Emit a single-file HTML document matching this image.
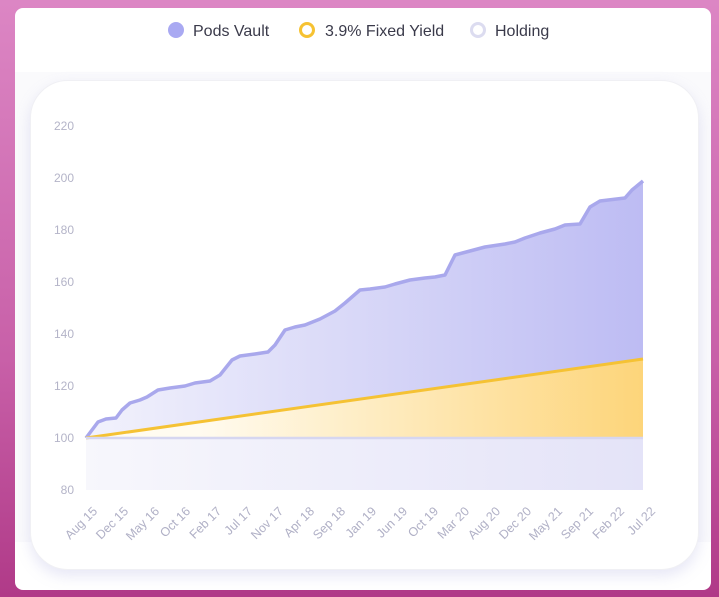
<!DOCTYPE html>
<html><head><style>
body{margin:0;width:719px;height:597px;overflow:hidden;background:linear-gradient(180deg,#dc86c4 0%,#c860a8 60%,#b03a88 100%);font-family:"Liberation Sans",sans-serif;}
.card{position:absolute;left:15px;top:8px;width:696px;height:582px;background:#fff;border-radius:8px;}
.band{position:absolute;left:15px;top:72px;width:696px;height:470px;background:#fafafc;}
.inner{position:absolute;left:30px;top:80px;width:667px;height:488px;background:#fff;border-radius:38px;box-shadow:0 6px 14px rgba(160,160,220,.25);border:1px solid #f0f0f4;}
</style></head><body>
<div class="card"></div>
<div class="band"></div>
<div class="inner"></div>
<svg width="719" height="597" style="position:absolute;left:0;top:0">
<defs>
<linearGradient id="pv" x1="0" y1="0" x2="1" y2="0"><stop offset="0" stop-color="#f2f2fc"/><stop offset="1" stop-color="#bdbcf3"/></linearGradient>
<linearGradient id="fy" x1="0" y1="0" x2="1" y2="0"><stop offset="0.2" stop-color="#fffbf0"/><stop offset="1" stop-color="#fdd57a"/></linearGradient>
<linearGradient id="hd" x1="0" y1="0" x2="1" y2="0"><stop offset="0" stop-color="#f7f7fc"/><stop offset="1" stop-color="#e4e3f8"/></linearGradient>
</defs>
<g font-size="16" fill="#3a3a4a">
<circle cx="176" cy="30" r="8" fill="#a9a9f2"/><text x="193" y="36">Pods Vault</text>
<circle cx="307" cy="30" r="6.5" fill="none" stroke="#f6c232" stroke-width="3"/><text x="325" y="36">3.9% Fixed Yield</text>
<circle cx="478" cy="30" r="6.5" fill="none" stroke="#dcdcf0" stroke-width="3"/><text x="495" y="36">Holding</text>
</g>
<g font-size="12" fill="#b4b4c8" text-anchor="end">
<text x="74" y="130">220</text><text x="74" y="182">200</text><text x="74" y="234">180</text><text x="74" y="286">160</text><text x="74" y="338">140</text><text x="74" y="390">120</text><text x="74" y="442">100</text><text x="74" y="494">80</text>
</g>
<rect x="86" y="438" width="557" height="52" fill="url(#hd)"/>
<path d="M86,438 L98,422 L106,419 L116,418 L122,410 L130,403 L140,400 L147,397 L158,390 L170,388 L185,386 L195,383 L210,381 L220,375 L232,360 L240,356 L255,354 L268,352 L275,345 L285,330 L295,327 L305,325 L320,319 L335,311 L345,303 L360,290 L370,289 L385,287 L395,284 L410,280 L425,278 L435,277 L445,275 L455,255 L470,251 L485,247 L505,244 L515,242 L525,238 L540,233 L555,229 L565,225 L580,224 L590,207 L600,201 L625,198 L632,190 L643,181 L643,438 Z" fill="url(#pv)"/>
<path d="M86,438 L98,422 L106,419 L116,418 L122,410 L130,403 L140,400 L147,397 L158,390 L170,388 L185,386 L195,383 L210,381 L220,375 L232,360 L240,356 L255,354 L268,352 L275,345 L285,330 L295,327 L305,325 L320,319 L335,311 L345,303 L360,290 L370,289 L385,287 L395,284 L410,280 L425,278 L435,277 L445,275 L455,255 L470,251 L485,247 L505,244 L515,242 L525,238 L540,233 L555,229 L565,225 L580,224 L590,207 L600,201 L625,198 L632,190 L643,181" fill="none" stroke="#a9a8ec" stroke-width="3.5" stroke-linejoin="round"/>
<path d="M86,438 L643,359 L643,438 Z" fill="url(#fy)"/>
<line x1="86" y1="438" x2="643" y2="359" stroke="#f5c234" stroke-width="3"/>
<line x1="86" y1="438" x2="643" y2="438" stroke="#d6d6f0" stroke-width="2.5"/>
<g font-size="12.5" fill="#b0b0c6" text-anchor="end">
<text transform="translate(98,512) rotate(-45)">Aug 15</text>
<text transform="translate(129,512) rotate(-45)">Dec 15</text>
<text transform="translate(160,512) rotate(-45)">May 16</text>
<text transform="translate(191,512) rotate(-45)">Oct 16</text>
<text transform="translate(222,512) rotate(-45)">Feb 17</text>
<text transform="translate(253,512) rotate(-45)">Jul 17</text>
<text transform="translate(284,512) rotate(-45)">Nov 17</text>
<text transform="translate(315,512) rotate(-45)">Apr 18</text>
<text transform="translate(346,512) rotate(-45)">Sep 18</text>
<text transform="translate(377,512) rotate(-45)">Jan 19</text>
<text transform="translate(408,512) rotate(-45)">Jun 19</text>
<text transform="translate(439,512) rotate(-45)">Oct 19</text>
<text transform="translate(470,512) rotate(-45)">Mar 20</text>
<text transform="translate(501,512) rotate(-45)">Aug 20</text>
<text transform="translate(532,512) rotate(-45)">Dec 20</text>
<text transform="translate(563,512) rotate(-45)">May 21</text>
<text transform="translate(594,512) rotate(-45)">Sep 21</text>
<text transform="translate(625,512) rotate(-45)">Feb 22</text>
<text transform="translate(656,512) rotate(-45)">Jul 22</text>
</g>
</svg>
</body></html>
